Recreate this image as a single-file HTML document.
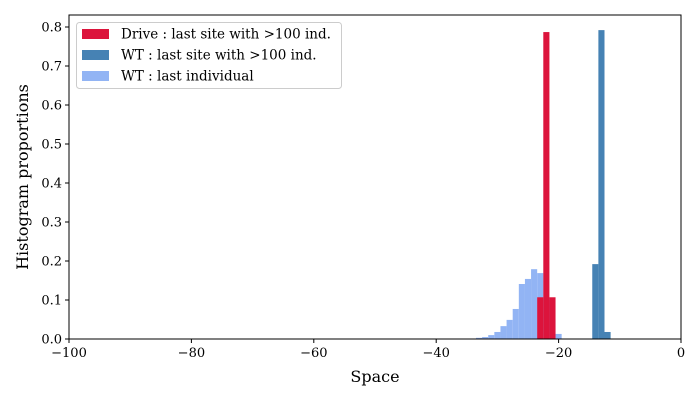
<!DOCTYPE html>
<html><head><meta charset="utf-8"><style>
body{margin:0;background:#fff}
svg text{font-family:"DejaVu Serif","Liberation Serif",serif;fill:#000}
</style></head><body>
<svg id="chart" width="700" height="400">
<g id="plot"></g>
</svg>
<script>
const lightCenters=[-33,-32,-31,-30,-29,-28,-27,-26,-25,-24,-23,-22,-21,-20];
const lightValues=[0.003,0.005,0.010,0.018,0.033,0.049,0.077,0.141,0.154,0.179,0.169,0.10,0.05,0.013];
const driveCenters=[-23,-22,-21];
const driveValues=[0.107,0.787,0.107];
const wtCenters=[-14,-13,-12];
const wtValues=[0.192,0.792,0.018];
const xTicks=[-100,-80,-60,-40,-20,0];
const yTicks=[0,0.1,0.2,0.3,0.4,0.5,0.6,0.7,0.8];
const L=69,R=681,T=15,B=339;
const xs=v=>L+(v+100)/100*(R-L);
const ys=v=>B-v*390;
const svg=document.getElementById('chart'),g=document.getElementById('plot');
const NS='http://www.w3.org/2000/svg';
function mk(tag,attrs,parent){const e=document.createElementNS(NS,tag);for(const k in attrs)e.setAttribute(k,attrs[k]);(parent||g).appendChild(e);return e;}
function bars(c,v,color,name){c.forEach((x,i)=>{const r=mk('rect',{x:xs(x-0.5),y:ys(v[i]),width:xs(x+0.5)-xs(x-0.5),height:B-ys(v[i]),fill:color});

});}
bars(lightCenters,lightValues,'#92b4f4','wt-last-individual');
bars(driveCenters,driveValues,'#dc143c','drive-last-site');
bars(wtCenters,wtValues,'#4682b4','wt-last-site');
const fr=mk('rect',{x:L,y:T,width:R-L,height:B-T,fill:'none',stroke:'#000','stroke-width':1});


xTicks.forEach(t=>{const x=xs(t);mk('line',{x1:x,x2:x,y1:B,y2:B+4,stroke:'#000'});
const tx=mk('text',{x:x,y:B+18,'text-anchor':'middle','font-size':13});tx.textContent=(t<0?'\u2212'+(-t):t);

});
yTicks.forEach(t=>{const y=ys(t);mk('line',{x1:L-4,x2:L,y1:y,y2:y,stroke:'#000'});
const tx=mk('text',{x:L-7,y:y+4.5,'text-anchor':'end','font-size':13});tx.textContent=t.toFixed(1);

});
const xl=mk('text',{x:375,y:382,'text-anchor':'middle','font-size':16});xl.textContent='Space';


const yl=mk('text',{x:0,y:0,'text-anchor':'middle','font-size':16,transform:'translate(28,177) rotate(-90)'});yl.textContent='Histogram proportions';


const lg=mk('g',{});


mk('rect',{x:76.5,y:22.5,width:265,height:66,rx:3,fill:'#fff',stroke:'#ccc'},lg);
[['Drive : last site with >100 ind.','#dc143c'],['WT : last site with >100 ind.','#4682b4'],['WT : last individual','#92b4f4']].forEach((e,i)=>{
const y=33+i*21;const it=mk('g',{},lg);


mk('rect',{x:82,y:y-4,width:27,height:10,fill:e[1]},it);
const t=mk('text',{x:121,y:y+5.5,'font-size':13.5,'font-family':'DejaVu Serif, Liberation Serif, serif'},it);t.textContent=e[0];});
</script>
</body></html>
